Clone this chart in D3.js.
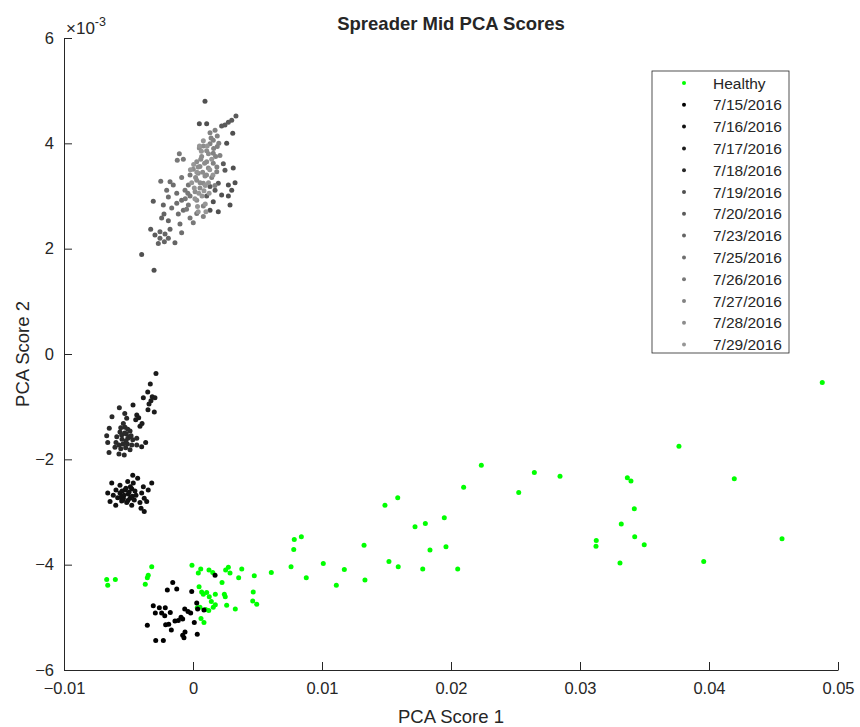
<!DOCTYPE html>
<html>
<head>
<meta charset="utf-8">
<script src="https://cdn.jsdelivr.net/npm/d3@7"></script>
<style>
  body { margin: 0; background: #fff; }
  text { font-family: "Liberation Sans", Arial, sans-serif; fill: #262626; }
</style>
</head>
<body>
<script>
// x values are raw PCA score 1, y values in units of 1e-3 (PCA score 2)
var legendLabels = ['Healthy', '7/15/2016', '7/16/2016', '7/17/2016', '7/18/2016', '7/19/2016',
  '7/20/2016', '7/23/2016', '7/25/2016', '7/26/2016', '7/27/2016', '7/28/2016', '7/29/2016'];
var seriesColors = ['#00ff00', '#000000', '#111111', '#1c1c1c', '#2a2a2a', '#505050',
  '#5a5a5a', '#646464', '#6e6e6e', '#787878', '#828282', '#8c8c8c', '#969696'];

var xTicks = [-0.01, 0, 0.01, 0.02, 0.03, 0.04, 0.05];
var yTicks = [-6, -4, -2, 0, 2, 4, 6];

var healthy = [
  [0.00607,-4.15],[0.0076,-4.04],[0.00781,-3.71],[0.00785,-3.52],[0.0084,-3.47],[0.00878,-4.25],
  [0.0101,-3.98],[0.01111,-4.39],[0.01173,-4.09],[0.01326,-3.63],[0.01333,-4.29],[0.01488,-2.87],
  [0.01519,-3.94],[0.01587,-2.73],[0.01591,-4.04],[0.01721,-3.28],[0.01781,-4.08],[0.01801,-3.22],
  [0.01837,-3.72],[0.01948,-3.11],[0.01961,-3.66],[0.02052,-4.08],[0.02098,-2.53],[0.02235,-2.11],
  [0.02525,-2.63],[0.02646,-2.25],[0.04878,-0.54],[0.03767,-1.75],[0.02845,-2.32],[0.03367,-2.35],
  [0.03395,-2.41],[0.04196,-2.37],[0.03421,-2.94],[0.0332,-3.23],[0.03424,-3.47],[0.03126,-3.54],
  [0.03124,-3.65],[0.03498,-3.62],[0.0331,-3.97],[0.03959,-3.94],[0.04566,-3.51],
  [-0.00669,-4.28],[-0.00661,-4.39],[-0.00602,-4.28],[-0.0032,-4.04],[-0.00347,-4.2],[-0.00354,-4.25],
  [-0.0037,-4.37],[-0.00008,-4.01],[0.00041,-4.16],[0.0006,-4.08],[0.00124,-4.1],[0.00153,-4.15],
  [0.00253,-4.1],[0.00274,-4.05],[0.00287,-4.16],[0.00378,-4.08],[0.00354,-4.25],[0.00475,-4.21],
  [0.00225,-4.34],[0.00047,-4.42],[0.00067,-4.52],[0.0008,-4.56],[0.00106,-4.53],[0.00126,-4.61],
  [0.00173,-4.56],[0.00243,-4.56],[0.0025,-4.61],[0.00142,-4.7],[0.00173,-4.76],[0.00157,-4.81],
  [0.00122,-4.87],[0.00054,-4.81],[0.00033,-4.82],[0.00098,-4.85],[0.00261,-4.77],[0.00328,-4.84],
  [0.00467,-4.52],[0.00463,-4.69],[0.00494,-4.75],[0.00062,-5.02],[0.00085,-5.1]
];

var d0715 = [
  [-0.00157,-4.34],[-0.00199,-4.48],[-0.00126,-4.46],[-0.0001,-4.51],[0.00171,-4.2],[-0.00308,-4.78],
  [-0.00261,-4.82],[-0.00215,-4.82],[-0.00292,-4.92],[-0.00243,-4.92],[-0.00219,-4.97],[-0.00176,-4.91],
  [-0.00064,-4.84],[-0.00039,-4.89],[-0.00018,-4.92],[0.00029,-4.73],[0.00036,-4.84],[0.00085,-4.86],
  [-0.00093,-5.0],[-0.0008,-5.03],[-0.0014,-5.07],[-0.00188,-5.13],[-0.00212,-5.14],[-0.00354,-5.15],
  [-0.00168,-5.24],[0.0001,-5.1],[-0.00062,-5.28],[-0.0008,-5.34],[-0.0007,-5.39],[0.00033,-5.32],
  [-0.00289,-5.44],[-0.0023,-5.44],[-0.00114,-5.06]
];

var d0716 = [
  [-0.00467,-2.3],[-0.00429,-2.36],[-0.0063,-2.45],[-0.00566,-2.49],[-0.00506,-2.42],[-0.00463,-2.45],
  [-0.0032,-2.45],[-0.00385,-2.52],[-0.00597,-2.58],[-0.00527,-2.58],[-0.00475,-2.56],[-0.00347,-2.58],
  [-0.00661,-2.64],[-0.00618,-2.68],[-0.00566,-2.64],[-0.00502,-2.66],[-0.00442,-2.68],[-0.00398,-2.64],
  [-0.00584,-2.73],[-0.0054,-2.74],[-0.00488,-2.74],[-0.00455,-2.77],[-0.00378,-2.74],[-0.00643,-2.8],
  [-0.00553,-2.79],[-0.00514,-2.82],[-0.00411,-2.82],[-0.00359,-2.8],[-0.00475,-2.87],[-0.00599,-2.87],
  [-0.00403,-2.93],[-0.00378,-2.99],[-0.0055,-2.6],[-0.0052,-2.55],[-0.00495,-2.62],[-0.0047,-2.7],
  [-0.00535,-2.68],[-0.0056,-2.72],[-0.0045,-2.6],[-0.00505,-2.78],[-0.00485,-2.52],[-0.00545,-2.77]
];

var d0717 = [
  [-0.00287,-0.37],[-0.00331,-0.57],[-0.00351,-0.72],[-0.00385,-0.83],[-0.00316,-0.81],[-0.00295,-0.83],
  [-0.00326,-0.89],[-0.00341,-0.95],[-0.003,-1.1],[-0.00349,-1.06],[-0.00436,-1.16],[-0.00421,-1.21],
  [-0.00444,-1.25],[-0.00395,-1.32],[-0.00411,-1.37],[-0.00367,-1.68],[-0.00398,-1.76],[-0.00465,-0.97]
];

var d0718 = [
  [-0.00571,-1.02],[-0.00529,-1.13],[-0.00628,-1.19],[-0.00514,-1.22],[-0.0054,-1.32],[-0.00649,-1.41],
  [-0.00527,-1.39],[-0.00506,-1.43],[-0.00566,-1.48],[-0.00488,-1.46],[-0.00553,-1.54],[-0.00517,-1.52],
  [-0.00591,-1.57],[-0.00669,-1.55],[-0.00491,-1.57],[-0.00467,-1.63],[-0.00436,-1.6],[-0.00661,-1.68],
  [-0.00597,-1.68],[-0.00574,-1.73],[-0.00543,-1.71],[-0.00509,-1.71],[-0.00475,-1.73],[-0.00436,-1.73],
  [-0.00605,-1.77],[-0.00522,-1.78],[-0.0056,-1.8],[-0.00488,-1.82],[-0.00651,-1.87],[-0.00574,-1.9],
  [-0.00533,-1.92],[-0.0053,-1.5],[-0.0055,-1.62],[-0.00505,-1.6],[-0.0052,-1.65],[-0.0048,-1.55],
  [-0.0056,-1.4]
];

var d0719 = [
  [0.00093,4.8],[0.00049,4.37],[0.00106,4.37],[0.00308,4.19],[0.00261,4.0],[0.00312,3.53],
  [0.00326,3.25],[0.00274,3.21],[0.003,3.11],[0.00274,3.0],[0.00287,2.83],[0.00196,2.7],
  [0.00157,2.89],[0.00132,2.73],[0.00222,3.02],[-0.00398,1.89],[-0.00302,1.59]
];

var d0720 = [
  [0.00333,4.52],[0.003,4.44],[0.00274,4.4],[0.00248,4.35],[0.00222,4.33],[0.00235,3.61],
  [0.00248,3.49],[0.00196,3.24],[0.00171,3.11],[0.00132,3.18],[0.00106,3.0],[-0.00308,2.9],
  [-0.00328,2.37],[-0.00295,2.26]
];

var d0723 = [
  [-0.0023,2.83],[-0.00225,2.66],[-0.00243,2.58],[-0.00191,2.53],[-0.00256,2.32],[-0.00217,2.28],
  [-0.00256,2.2],[-0.00191,2.2],[-0.00269,2.1],[-0.00222,2.13],[-0.0014,2.11],[-0.00178,2.37]
];

var d0725 = [
  [-0.0025,3.28],[-0.00178,3.27],[-0.00153,3.21],[-0.00204,3.11],[-0.00126,3.05],[-0.00191,2.98],
  [-0.00088,2.92],[-0.00126,2.86],[-0.00165,2.77],[-0.00075,2.73],[-0.00114,2.66],[-0.00101,2.47],
  [-0.00088,2.3]
];

var d0726 = [
  [-0.00106,3.8],[-0.00075,3.7],[-0.00122,3.68],[-0.00023,3.4],[-0.00088,3.35],[-0.00036,3.21],
  [-0.00062,3.11],[-0.00023,3.0],[-0.00036,2.83],[-0.00023,2.58],[0.00002,2.49],[0.00029,2.67],
  [-0.0004,3.05],[-0.0006,2.95],[-0.0005,2.75]
];

var d0727 = [
  [0.00132,4.2],[0.00171,4.25],[0.00188,4.14],[0.00157,4.06],[0.00132,3.99],[0.00188,3.94],
  [0.00157,3.81],[0.00209,3.77],[0.00157,3.62],[0.00184,3.46],[0.00145,3.35],[0.0008,2.81],
  [0.0008,2.61],[0.0014,4.1],[0.0016,3.9],[0.00175,3.75],[0.002,4.0],[0.00185,3.55],[0.0017,3.2]
];

var d0728 = [
  [0.0008,3.95],[0.00049,3.91],[0.00106,3.86],[0.00067,3.75],[0.00029,3.65],[0.00106,3.65],
  [0.00054,3.56],[0.00002,3.51],[0.00119,3.53],[0.00041,3.43],[0.00093,3.38],[0.00029,3.3],
  [0.0008,3.24],[0.00016,3.08],[0.00054,3.15],[0.00029,2.92],[0.0006,3.7],[0.0009,3.62],
  [0.0012,3.8],[0.0004,3.55],[0.00075,3.45],[0.00105,3.4],[0.0002,3.35],[0.00055,3.25]
];

var d0729 = [
  [0.00095,3.2],[0.0013,3.5],[0.0001,3.15],[0.00045,3.05],[0.00085,3.1],[-0.0001,3.25],
  [0.0003,3.45],[0.00065,3.85],[0.00145,3.7],[0.0011,3.95],[0.0008,4.05],[0.00155,3.4],
  [0.0012,3.25],[0.0007,3.0],[0.00015,2.95],[0.00035,2.8],[0.00095,2.85],[0.00125,3.05],
  [0.00005,3.6],[-0.0002,3.5],[0.0005,3.95],[0.0004,2.7],[0.001,2.7]
];

var seriesData = [healthy, d0715, d0716, d0717, d0718, d0719, d0720, d0723, d0725, d0726, d0727, d0728, d0729];

var width = 860, height = 727;
var margin = { left: 64, right: 22, top: 38, bottom: 57 };

var x = d3.scaleLinear().domain([-0.01, 0.05]).range([margin.left, width - margin.right]);
var y = d3.scaleLinear().domain([-6, 6]).range([height - margin.bottom, margin.top]);

var svg = d3.select('body').append('svg')
  .attr('width', width)
  .attr('height', height);

// axes, ticks point inward like matlab
var xAxis = svg.append('g')
  .attr('transform', 'translate(0,' + (height - margin.bottom) + ')')
  .call(d3.axisBottom(x).tickValues(xTicks).tickSizeInner(-8).tickSizeOuter(0).tickPadding(12)
    .tickFormat(function(d) { return d === 0 ? '0' : d3.format('.2f')(d).replace(/0$/, ''); }));

var yAxis = svg.append('g')
  .attr('transform', 'translate(' + margin.left + ',0)')
  .call(d3.axisLeft(y).tickValues(yTicks).tickSizeInner(-8).tickSizeOuter(0).tickPadding(10));

[xAxis, yAxis].forEach(function(a) {
  a.select('.domain').attr('stroke', '#262626');
  a.selectAll('.tick line').attr('stroke', '#262626');
  a.selectAll('.tick text').attr('font-size', 16.5).attr('fill', '#262626')
    .style('font-family', '"Liberation Sans", Arial, sans-serif');
});

// exponent label
var expo = svg.append('text')
  .attr('x', margin.left + 2)
  .attr('y', margin.top - 4)
  .attr('font-size', 17);
expo.append('tspan').text('\u00d710');
expo.append('tspan').attr('dy', -8).attr('font-size', 12.5).text('-3');

// title and axis labels
svg.append('text')
  .attr('x', 451).attr('y', 30)
  .attr('text-anchor', 'middle')
  .attr('font-size', 18.5).attr('font-weight', 'bold')
  .attr('fill', '#000')
  .text('Spreader Mid PCA Scores');

svg.append('text')
  .attr('x', 451).attr('y', 723)
  .attr('text-anchor', 'middle')
  .attr('font-size', 18.5)
  .text('PCA Score 1');

svg.append('text')
  .attr('transform', 'translate(29,' + y(0) + ') rotate(-90)')
  .attr('text-anchor', 'middle')
  .attr('font-size', 18.5)
  .text('PCA Score 2');

// points
var plot = svg.append('g');
seriesData.forEach(function(pts, i) {
  plot.append('g').selectAll('circle')
    .data(pts)
    .enter().append('circle')
    .attr('cx', function(d) { return x(d[0]); })
    .attr('cy', function(d) { return y(d[1]); })
    .attr('r', 2.5)
    .attr('fill', seriesColors[i]);
});

// legend
var lg = svg.append('g').attr('transform', 'translate(652,71)');
lg.append('rect')
  .attr('width', 137).attr('height', 282)
  .attr('fill', '#fff').attr('stroke', '#262626').attr('stroke-width', 0.8);

var rowH = 21.8;
var rows = lg.selectAll('g.row')
  .data(legendLabels)
  .enter().append('g')
  .attr('transform', function(d, i) { return 'translate(0,' + (12 + i * rowH) + ')'; });

rows.append('circle')
  .attr('cx', 32).attr('cy', 0).attr('r', 2)
  .attr('fill', function(d, i) { return seriesColors[i]; });

rows.append('text')
  .attr('x', 61).attr('y', 5.5)
  .attr('font-size', 15.5)
  .attr('fill', '#000')
  .text(function(d) { return d; });
</script>
</body>
</html>
